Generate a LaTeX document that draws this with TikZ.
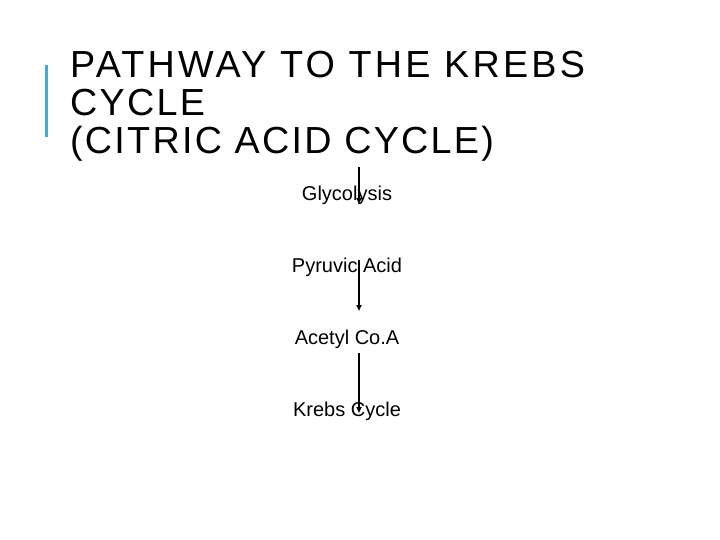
\documentclass[tikz,border=0pt]{standalone}
\usepackage{fontspec}
\setmainfont{Liberation Sans}
\newfontfamily\titlefont[LetterSpace=6]{Liberation Sans}
\usetikzlibrary{arrows.meta,positioning}
\definecolor{barblue}{HTML}{46A9D2}

\begin{document}
\begin{tikzpicture}[x=1bp, y=-1bp, node distance=72bp, on grid,
  steplabel/.style={font=\fontsize{20bp}{24bp}\selectfont, inner sep=0pt},
  flow/.style={-{Triangle[width=5bp,length=6bp]}, line width=1.5bp}]
\useasboundingbox (0,0) rectangle (720,540);
% title with the blue bar
\fill [barblue] (45,65) rectangle (48,137);
\node [anchor=north west, align=left, inner sep=0pt,
  font=\titlefont\fontsize{37.7bp}{38bp}\selectfont] (title) at (70,51)
  {{\addfontfeature{LetterSpace=8.6}PATHWAY TO THE KREBS}\\CYCLE\\(CITRIC ACID CYCLE)};
% steps
\node [steplabel] (glyco) at (347,195) {Glycolysis};
\node [steplabel] (pyruvic) [below = of glyco] {Pyruvic Acid};
\node [steplabel] (acetyl) [below = of pyruvic] {Acetyl Co.A};
\node [steplabel] (krebs) [below = of acetyl] {Krebs Cycle};
% arrows
\coordinate (a1) at (359,167);
\coordinate (b1) at (359,204);
\coordinate (a2) at (359,260);
\coordinate (b2) at (359,311);
\coordinate (a3) at (359,353);
\coordinate (b3) at (359,413);
\draw [flow] (a1) -- (b1);
\draw [flow] (a2) -- (b2);
\draw [flow] (a3) -- (b3);
\end{tikzpicture}
\end{document}
